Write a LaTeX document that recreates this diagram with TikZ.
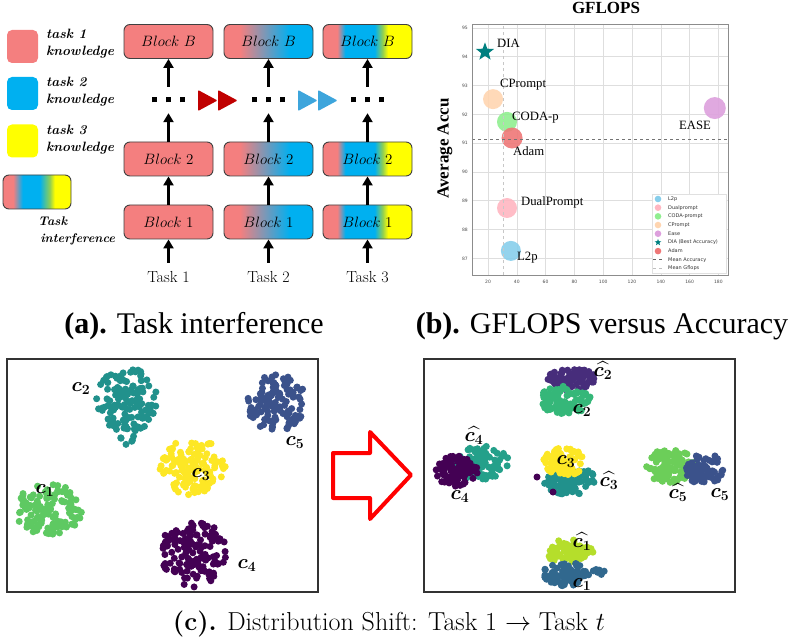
\RequirePackage{fix-cm}
\documentclass[tikz,border=0pt]{standalone}
\usepackage{amsmath}
\usepackage{fontspec}
\newfontfamily\timesfont{Liberation Serif}
\newfontfamily\plotfont{DejaVu Sans}
\usetikzlibrary{arrows.meta}
\usetikzlibrary{shapes.geometric}

\definecolor{tpink}{HTML}{F47F7F}
\definecolor{tblue}{HTML}{00B0F0}
\definecolor{tyellow}{HTML}{FFFF00}
\definecolor{tgreen}{HTML}{92D050}
\definecolor{tred}{HTML}{C00000}
\definecolor{tsky}{HTML}{3DA5DC}
\definecolor{cl2p}{HTML}{87CEEB}
\definecolor{cdual}{HTML}{FFB6C1}
\definecolor{ccoda}{HTML}{90EE90}
\definecolor{ccp}{HTML}{FFD5B0}
\definecolor{cease}{HTML}{DDA0DD}
\definecolor{cdia}{HTML}{008080}
\definecolor{cadam}{HTML}{EE7777}
\definecolor{vpurple}{HTML}{440154}
\definecolor{vindigo}{HTML}{472D7B}
\definecolor{vblue}{HTML}{3B528B}
\definecolor{vsteel}{HTML}{31688E}
\definecolor{vteal}{HTML}{21918C}
\definecolor{vteal2}{HTML}{24A08A}
\definecolor{vmint}{HTML}{35B779}
\definecolor{vgreen}{HTML}{5EC962}
\definecolor{vlgreen}{HTML}{6CCE59}
\definecolor{vlime}{HTML}{B5DE2B}
\definecolor{vyellow}{HTML}{FDE725}

\pgfdeclarehorizontalshading{mixtwo}{100bp}{color(0bp)=(tpink); color(34bp)=(tpink); color(62bp)=(tblue); color(100bp)=(tblue)}
\pgfdeclarehorizontalshading{mixthree}{100bp}{color(0bp)=(tpink); color(33bp)=(tpink); color(37.5bp)=(tblue); color(54bp)=(tblue); color(58.5bp)=(tgreen); color(61.5bp)=(tyellow); color(100bp)=(tyellow)}
\pgfdeclarehorizontalshading{mixlegend}{100bp}{color(0bp)=(tpink); color(32.5bp)=(tpink); color(39.5bp)=(tblue); color(52bp)=(tblue); color(59.5bp)=(tgreen); color(63bp)=(tyellow); color(100bp)=(tyellow)}

\newcommand{\dotcloud}[6]{%
  \foreach \k in {1,...,#6}{%
    \pgfmathsetmacro\ang{360*rnd}%
    \pgfmathsetmacro\rr{pow(rnd,0.6)}%
    \fill[#5] ({#1+#3*\rr*cos(\ang)},{#2+#4*\rr*sin(\ang)}) circle (3.5);
  }}

\begin{document}
\begin{tikzpicture}[x=1pt, y=-1pt,
  block/.style={draw=black!75, line width=0.9, rounded corners=6, minimum width=89, minimum height=34, inner sep=0, font=\fontsize{15}{15}\selectfont},
  swatch/.style={rounded corners=5, minimum width=31, minimum height=33, inner sep=0},
  lgtext/.style={align=left, anchor=west, inner sep=0, font=\fontsize{13.5}{17}\selectfont\bfseries\itshape},
  up/.style={-{Triangle[length=9pt,width=10pt]}, line width=2.8},
  dotrow/.style={minimum width=34, minimum height=26, inner sep=0},
  task/.style={font=\fontsize{16}{16}\selectfont, inner sep=1},
  bub/.style={circle, minimum size=20, inner sep=0, fill opacity=0.9},
  plabel/.style={anchor=base west, inner sep=0, font=\timesfont\fontsize{12.7}{13}\selectfont},
  tick/.style={font=\plotfont\fontsize{4.5}{5}\selectfont, text=black!70, inner sep=0},
  lgentry/.style={anchor=west, inner sep=0, font=\plotfont\fontsize{5}{5}\selectfont, text=black!80},
  gridline/.style={black!13, line width=0.6},
  clabel/.style={inner sep=0, font=\fontsize{20}{20}\selectfont},
  captext/.style={anchor=base, inner sep=0, font=\timesfont\fontsize{30}{30}\selectfont},
  panel/.style={draw=black!80, line width=1.2}]
\useasboundingbox (0,0) rectangle (789,644);

\node[swatch, fill=tpink] (sw1) at (22.5,46.5) {};
\node[swatch, fill=tblue] (sw2) at (22.5,93.5) {};
\node[swatch, fill=tyellow] (sw3) at (22.5,141) {};
\node[draw=black!75, line width=0.9, rounded corners=6, minimum width=68, minimum height=34, inner sep=0, shading=mixlegend] (swmix) at (37,192) {};
\node[lgtext] (lt1) at (46,44) {task 1\\knowledge};
\node[lgtext] (lt2) at (46,92) {task 2\\knowledge};
\node[lgtext] (lt3) at (46,140) {task 3\\knowledge};
\node[lgtext, font=\fontsize{12.5}{17}\selectfont\bfseries\itshape] (ltmix) at (38,230.5) {Task\\\,interference};

\node[block, fill=tpink] (bB1) at (168.5,41.5) {$Block~B$};
\node[block, fill=tpink] (b21) at (168.5,159) {$Block~2$};
\node[block, fill=tpink] (b11) at (168.5,222) {$Block~1$};
\node[block, shading=mixtwo] (bB2) at (268.5,41.5) {$Block~B$};
\node[block, shading=mixtwo] (b22) at (268.5,159) {$Block~2$};
\node[block, shading=mixtwo] (b12) at (268.5,222) {$Block~1$};
\node[block, shading=mixthree] (bB3) at (367.5,41.5) {$Block~B$};
\node[block, shading=mixthree] (b23) at (367.5,159) {$Block~2$};
\node[block, shading=mixthree] (b13) at (367.5,222) {$Block~1$};

\node[dotrow] (dt1) at (168.5,100) {\rule{5pt}{5pt}\hspace{9pt}\rule{5pt}{5pt}\hspace{9pt}\rule{5pt}{5pt}};
\node[dotrow] (dt2) at (268.5,100) {\rule{5pt}{5pt}\hspace{9pt}\rule{5pt}{5pt}\hspace{9pt}\rule{5pt}{5pt}};
\node[dotrow] (dt3) at (367.5,100) {\rule{5pt}{5pt}\hspace{9pt}\rule{5pt}{5pt}\hspace{9pt}\rule{5pt}{5pt}};

\node[task] (t1) at (168.5,277.5) {Task 1};
\node[task] (t2) at (268.5,277.5) {Task 2};
\node[task] (t3) at (367.5,277.5) {Task 3};

\foreach \n in {1,2,3}{
  \draw[up, shorten <=8pt] (t\n) -- (b1\n);
  \draw[up] (b1\n) -- (b2\n);
  \draw[up] (b2\n) -- (dt\n);
  \draw[up] (dt\n) -- (bB\n);
}

\fill[tred, rounded corners=1] (198,90) -- (217.5,100.5) -- (198,111) -- cycle;
\fill[tred, rounded corners=1] (218,90) -- (237.5,100.5) -- (218,111) -- cycle;
\fill[tsky, rounded corners=1] (298,90) -- (317.5,100.5) -- (298,111) -- cycle;
\fill[tsky, rounded corners=1] (318,90) -- (337.5,100.5) -- (318,111) -- cycle;

\node[anchor=base, inner sep=0, font=\timesfont\bfseries\fontsize{17}{17}\selectfont] (gtitle) at (606,13.5) {GFLOPS};
\node[rotate=90, inner sep=0, font=\timesfont\bfseries\fontsize{17}{17}\selectfont] (ylab) at (445,148.5) {Average Accu};

\begin{scope}[shift={(459.2,2764)}, x=1.44pt, y=28.8pt]
  \foreach \g in {20,40,...,180}{
    \draw[gridline] (\g,86.42) -- (\g,95.14);
    \node[tick] at (\g,86.18) {\g};
  }
  \foreach \v in {87,...,95}{
    \draw[gridline] (8.9,\v) -- (186.7,\v);
    \node[tick] at (4,\v) {\v};
  }
  \node[bub, fill=cl2p] (pl2p) at (35.9,87.26) {};
  \node[bub, fill=cdual] (pdual) at (33.2,88.75) {};
  \node[bub, fill=ccoda] (pcoda) at (33.2,91.74) {};
  \node[bub, fill=ccp] (pcp) at (23.5,92.53) {};
  \node[bub, fill=cease, minimum size=22] (pease) at (177.5,92.22) {};
  \node[star, star points=5, star point ratio=2.4, fill=cdia, minimum size=19, inner sep=0] (pdia) at (17.9,94.17) {};
  \node[bub, fill=cadam, minimum size=21] (padam) at (36.7,91.18) {};
  \draw[dashed, black!55, line width=0.7] (8.9,91.15) -- (186.7,91.15);
  \draw[dashed, black!22, line width=0.9] (30.4,86.42) -- (30.4,95.14);
  \draw[black!45, line width=0.8] (8.9,86.42) rectangle (186.7,95.14);
\end{scope}

\node[plabel] (ldia) at (497,48) {DIA};
\node[plabel] (lcp) at (500,88) {CPrompt};
\node[plabel] (lcoda) at (512,121) {CODA-p};
\node[plabel] (ladam) at (513,156) {Adam};
\node[plabel] (lease) at (679,130) {EASE};
\node[plabel] (ldual) at (521,206) {DualPrompt};
\node[plabel] (ll2p) at (517,261) {L2p};

\node[draw=black!12, fill=white, minimum width=74, minimum height=79, inner sep=0] (lgbox) at (689,233.5) {};
\foreach \c/\t [count=\k from 0] in {cl2p/L2p, cdual/Dualprompt, ccoda/CODA-prompt, ccp/CPrompt, cease/Ease}{
  \fill[\c] (658,{199+8.68*\k}) circle (3.3);
  \node[lgentry] at (668,{199+8.68*\k}) {\t};
}
\node[star, star points=5, star point ratio=2.4, fill=cdia, minimum size=7, inner sep=0] (lgdia) at (658,242.4) {};
\node[lgentry] at (668,242.4) {DIA (Best Accuracy)};
\fill[cadam] (658,251.1) circle (3.3);
\node[lgentry] at (668,251.1) {Adam};
\draw[dashed, black!60, line width=0.5] (653,259.7) -- (664,259.7);
\node[lgentry] at (668,259.7) {Mean Accuracy};
\draw[dashed, black!25, line width=0.5] (653,268.4) -- (664,268.4);
\node[lgentry] at (668,268.4) {Mean Gflops};

\node[captext] (capa) at (194,333) {\textbf{(a).} Task interference};
\node[captext] (capb) at (602,333) {\textbf{(b).} GFLOPS versus Accuracy};

\draw[panel] (7,359) rectangle (318,592);
\draw[panel] (424,359) rectangle (735,592);

\pgfmathsetseed{7}
\dotcloud{127}{400}{31}{32}{vteal}{125}
\dotcloud{127}{433}{9}{12}{vteal}{10}
\dotcloud{277}{403}{30}{29}{vblue}{125}
\dotcloud{193}{467}{33}{28}{vyellow}{125}
\dotcloud{49}{510}{33}{27}{vgreen}{135}
\dotcloud{193}{553}{33}{34}{vpurple}{135}

\dotcloud{572}{379}{24}{11}{vindigo}{85}
\dotcloud{565}{400}{26}{14}{vmint}{95}
\dotcloud{480}{463}{29}{17}{vteal2}{105}
\dotcloud{457}{471}{21}{16}{vpurple}{85}
\dotcloud{570}{481}{27}{14}{vteal}{95}
\dotcloud{564}{462}{21}{14}{vyellow}{85}
\fill[vpurple] (537,477) circle (3.5);
\fill[vpurple] (553,492) circle (3.5);
\dotcloud{670}{466}{25}{17}{vlgreen}{105}
\dotcloud{704}{469}{19}{16}{vblue}{85}
\dotcloud{570}{552}{23}{13}{vlime}{85}
\dotcloud{566}{574}{23}{12}{vsteel}{85}
\dotcloud{599}{571}{6}{4}{vsteel}{6}

\node[clabel] (lc2) at (81,389) {$\boldsymbol{c_2}$};
\node[clabel] (lc5) at (295,443) {$\boldsymbol{c_5}$};
\node[clabel] (lc3) at (201,475) {$\boldsymbol{c_3}$};
\node[clabel] (lc1) at (45,491) {$\boldsymbol{c_1}$};
\node[clabel] (lc4) at (247,566) {$\boldsymbol{c_4}$};

\node[clabel] (hc2) at (603,371) {$\widehat{\boldsymbol{c_2}}$};
\node[clabel] (nc2) at (582,411) {$\boldsymbol{c_2}$};
\node[clabel] (hc4) at (474,436) {$\widehat{\boldsymbol{c_4}}$};
\node[clabel] (nc4) at (460,497) {$\boldsymbol{c_4}$};
\node[clabel] (nc3) at (566,462) {$\boldsymbol{c_3}$};
\node[clabel] (hc3) at (609,481) {$\widehat{\boldsymbol{c_3}}$};
\node[clabel] (hc5) at (678,493) {$\widehat{\boldsymbol{c_5}}$};
\node[clabel] (nc5) at (720,495) {$\boldsymbol{c_5}$};
\node[clabel] (hc1) at (582,542) {$\widehat{\boldsymbol{c_1}}$};
\node[clabel] (nc1) at (582,585) {$\boldsymbol{c_1}$};

\draw[red, line width=4, line join=round] (333,453) -- (370,453) -- (370,432) -- (411,475) -- (370,519) -- (370,498) -- (333,498) -- cycle;

\node[anchor=base, inner sep=0, font=\fontsize{26}{26}\selectfont] (capc) at (389,630) {\textbf{(c).} Distribution Shift: Task 1 $\rightarrow$ Task $t$};
\end{tikzpicture}
\end{document}
